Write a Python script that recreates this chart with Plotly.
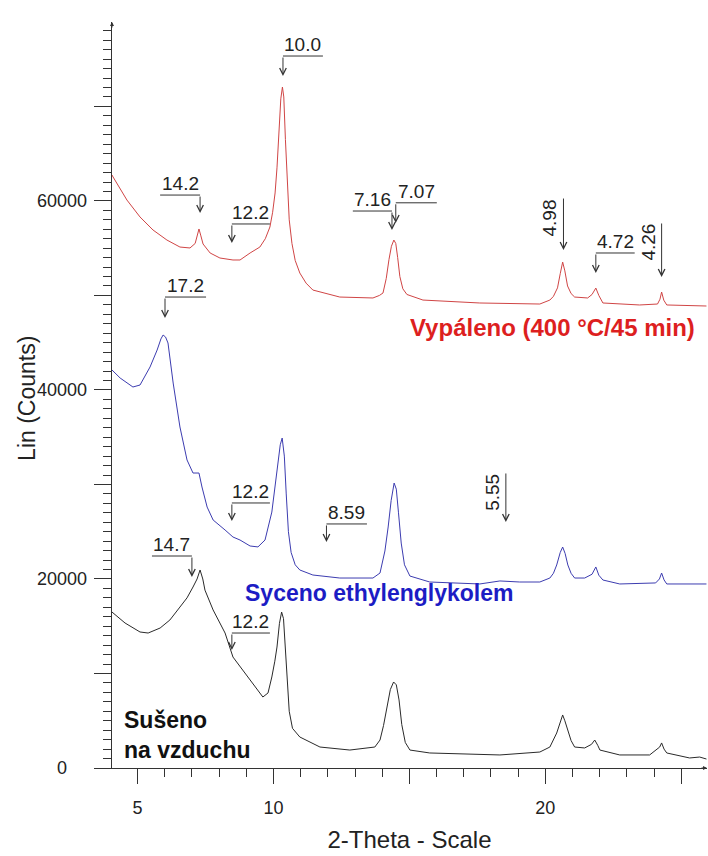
import plotly.graph_objects as go

# ---------------- data (2-Theta in degrees, intensity in counts) ----------------
red_x = [4.06, 4.10, 4.61, 5.09, 5.57, 6.08, 6.56, 6.93, 7.12, 7.19, 7.26, 7.33, 7.41, 7.67, 8.03,
         8.51, 8.77, 9.14, 9.50, 9.70, 9.87, 9.97, 10.06, 10.13, 10.20, 10.27, 10.33, 10.38, 10.44,
         10.50, 10.58, 10.68, 10.80, 10.97, 11.20, 11.45, 12.44, 13.66, 13.90, 14.03, 14.15, 14.25,
         14.34, 14.43, 14.50, 14.57, 14.65, 14.76, 14.91, 15.50, 17.59, 19.80, 20.17, 20.30, 20.45,
         20.55, 20.64, 20.72, 20.82, 20.95, 21.08, 21.56, 21.72, 21.86, 21.97, 22.12, 23.47, 24.13,
         24.22, 24.28, 24.36, 24.47, 25.93]
red_y = [62740, 62530, 60090, 58300, 56920, 55860, 55120, 55020, 55500, 56200, 57030, 56300, 55440,
         54490, 53960, 53750, 53750, 54490, 55120, 56000, 57240, 58800, 60840, 63500, 67500, 70800,
         72050, 71000, 66500, 62000, 58000, 55500, 53700, 52370, 51300, 50570, 49830, 49730, 50000,
         50260, 51800, 53800, 55200, 55860, 55500, 54000, 52000, 50700, 50100, 49510, 49200, 49090,
         49510, 49900, 50800, 52300, 53530, 52600, 51000, 50200, 49830, 49730, 50100, 50780, 50000,
         49200, 48990, 49090, 49600, 50360, 49500, 48990, 48880]

blue_x = [4.06, 4.36, 4.83, 5.09, 5.46, 5.72, 5.86, 5.94, 6.03, 6.12, 6.31, 6.56, 6.82, 7.04, 7.26,
          7.37, 7.56, 7.78, 8.22, 8.51, 8.77, 9.14, 9.43, 9.69, 9.94, 10.05, 10.15, 10.25, 10.32,
          10.40, 10.47, 10.55, 10.65, 10.80, 10.97, 11.45, 12.44, 13.66, 13.92, 14.10, 14.22, 14.33,
          14.44, 14.52, 14.60, 14.70, 14.82, 15.02, 15.75, 17.59, 18.33, 19.06, 19.80, 20.17, 20.30,
          20.42, 20.55, 20.64, 20.73, 20.83, 20.95, 21.08, 21.45, 21.72, 21.86, 21.97, 22.12, 22.74,
          24.06, 24.20, 24.28, 24.37, 24.47, 25.68, 25.93]
blue_y = [42110, 41260, 40310, 40520, 42430, 44220, 45400, 45810, 45600, 44970, 40730, 36080, 32590,
          31210, 31210, 29730, 27610, 26240, 25180, 24440, 24120, 23490, 23390, 24120, 27080, 29500,
          32000, 34200, 34910, 33000, 29000, 25000, 22800, 21500, 20950, 20420, 20100, 20100, 20630,
          22960, 25500, 28300, 30150, 29500, 27000, 23800, 21500, 20310, 19680, 19470, 19790, 19680,
          19680, 20100, 20600, 21480, 22800, 23380, 22700, 21480, 20600, 20100, 20100, 20500, 21270,
          20400, 19890, 19470, 19580, 20000, 20630, 19900, 19470, 19470, 19470]

black_x = [4.06, 4.54, 5.09, 5.39, 5.83, 6.19, 6.56, 6.82, 7.04, 7.19, 7.30, 7.40, 7.48, 7.78, 8.22,
           8.51, 8.95, 9.32, 9.61, 9.80, 9.94, 10.05, 10.13, 10.22, 10.30, 10.37, 10.43, 10.50, 10.58,
           10.70, 10.97, 11.71, 12.81, 13.73, 13.92, 14.05, 14.18, 14.30, 14.42, 14.52, 14.62, 14.72,
           14.85, 15.02, 15.75, 18.33, 19.80, 20.17, 20.42, 20.55, 20.64, 20.72, 20.83, 20.95, 21.08,
           21.45, 21.70, 21.82, 21.93, 22.01, 22.74, 23.84, 24.21, 24.28, 24.37, 24.47, 25.31, 25.68,
           25.93]
black_y = [16500, 15340, 14390, 14280, 14810, 15660, 17030, 18000, 19150, 20000, 20950, 20000, 18820,
           16720, 14280, 11740, 10050, 8570, 7510, 7940, 9630, 11300, 12800, 15300, 16500, 15800,
           13000, 9000, 6000, 4200, 3280, 2220, 1900, 2220, 2960, 4500, 6500, 8300, 9100, 8800, 7200,
           4600, 2700, 1900, 1590, 1380, 1690, 2220, 3700, 4900, 5610, 5000, 4020, 2900, 2220, 2120,
           2500, 2960, 2400, 1900, 1380, 1380, 2220, 2650, 2000, 1590, 1060, 1160, 950]

# d-spacing labels with an L-shaped leader (text over a horizontal line, arrow down)
d_labels = ["14.2", "12.2", "10.0", "7.16", "7.07", "4.72", "17.2", "12.2", "8.59", "14.7", "12.2"]
d_arrow_x = [7.30, 8.47, 10.35, 14.36, 14.50, 21.86, 6.01, 8.47, 11.95, 7.00, 8.47]
d_other_x = [5.83, 9.87, 11.82, 12.92, 16.01, 23.29, 7.52, 9.87, 13.44, 5.53, 9.87]
d_line_y = [60620, 57560, 75330, 58930, 59800, 54490, 49830, 28040, 25820, 22430, 14280]
d_tip_y = [58720, 55550, 73210, 56920, 57660, 52370, 47610, 26130, 23910, 20210, 12480]

# d-spacing labels with vertical text and a straight arrow
v_labels = ["4.98", "4.26", "5.55"]
v_x = [20.67, 24.28, 18.55]
v_top = [60410, 57770, 31320]
v_tip = [54800, 51950, 26030]

y_tick_vals = [0, 10000, 20000, 30000, 40000, 50000, 60000, 70000]
y_tick_text = ["0", "", "20000", "", "40000", "", "60000", ""]
x_tick_vals = [5, 10, 15, 20, 25]
x_tick_text = ["5", "10", "", "20", ""]

FONT = "Liberation Sans, Arial, sans-serif"
AX = "#333333"

fig = go.Figure()
fig.add_trace(go.Scatter(x=black_x, y=black_y, mode="lines",
                         line=dict(color="#2a2a2a", width=1), showlegend=False))
fig.add_trace(go.Scatter(x=blue_x, y=blue_y, mode="lines",
                         line=dict(color="#3c3cb0", width=1), showlegend=False))
fig.add_trace(go.Scatter(x=red_x, y=red_y, mode="lines",
                         line=dict(color="#d04545", width=1), showlegend=False))

ann = []
shapes = []
for t, xa, xo, yl, yt in zip(d_labels, d_arrow_x, d_other_x, d_line_y, d_tip_y):
    shapes.append(dict(type="line", xref="x", yref="y", x0=xo, x1=xa, y0=yl, y1=yl,
                       line=dict(color=AX, width=1)))
    ann.append(dict(x=xa, y=yt, ax=xa, ay=yl, xref="x", yref="y", axref="x", ayref="y",
                    text="", showarrow=True, arrowhead=5, arrowsize=1.3, arrowwidth=1,
                    arrowcolor=AX, standoff=0))
    ann.append(dict(x=(xa + xo) / 2, y=yl, xref="x", yref="y", text=t, showarrow=False,
                    yanchor="bottom", xanchor="center", yshift=-1,
                    font=dict(family=FONT, size=19, color="#222222")))
for t, xv, yt0, yt1 in zip(v_labels, v_x, v_top, v_tip):
    ann.append(dict(x=xv, y=yt1, ax=xv, ay=yt0, xref="x", yref="y", axref="x", ayref="y",
                    text="", showarrow=True, arrowhead=5, arrowsize=1.3, arrowwidth=1,
                    arrowcolor=AX, standoff=0))
    ann.append(dict(x=xv, y=yt0, xref="x", yref="y", text=t, showarrow=False, textangle=-90,
                    xanchor="right", yanchor="top", xshift=-1,
                    font=dict(family=FONT, size=19, color="#222222")))

# sample names
ann.append(dict(x=25.57, y=46660, xref="x", yref="y", text="<b>Vypáleno (400 °C/45 min)</b>",
                showarrow=False, xanchor="right", yanchor="middle",
                font=dict(family=FONT, size=24, color="#dd1f1f")))
ann.append(dict(x=8.88, y=18520, xref="x", yref="y", text="<b>Syceno ethylenglykolem</b>",
                showarrow=False, xanchor="left", yanchor="middle",
                font=dict(family=FONT, size=23, color="#1c1cc4")))
ann.append(dict(x=4.43, y=3540, xref="x", yref="y", text="<b>Sušeno<br>na vzduchu</b>",
                showarrow=False, xanchor="left", yanchor="middle", align="left",
                font=dict(family=FONT, size=23, color="#111111")))

# y tick labels (centred under each other, as in the original)
for v, t in zip(y_tick_vals, y_tick_text):
    if t:
        ann.append(dict(x=-0.084, y=v, xref="paper", yref="y", text=t, showarrow=False,
                        xanchor="center", yanchor="middle",
                        font=dict(family=FONT, size=18, color="#222222")))
# y title
ann.append(dict(x=-0.143, y=0.496, xref="paper", yref="paper", text="Lin (Counts)",
                showarrow=False, textangle=-90, xanchor="center", yanchor="middle",
                font=dict(family=FONT, size=23, color="#222222")))
# axis end arrows
ann.append(dict(x=1, y=0, xref="paper", yref="paper", ax=-7, ay=0, text="", showarrow=True,
                arrowhead=2, arrowsize=0.8, arrowwidth=1, arrowcolor=AX))
ann.append(dict(x=0, y=1, xref="paper", yref="paper", ax=0, ay=7, text="", showarrow=True,
                arrowhead=2, arrowsize=0.8, arrowwidth=1, arrowcolor=AX))

fig.update_layout(
    width=708, height=856,
    margin=dict(l=112, r=1, t=22, b=88),
    paper_bgcolor="white", plot_bgcolor="white",
    annotations=ann, shapes=shapes,
    xaxis=dict(range=[4.06, 25.95], showline=True, linecolor=AX, linewidth=1, mirror=False,
               showgrid=False, zeroline=False, ticks="outside", ticklen=15, tickwidth=1,
               tickcolor=AX, tickmode="array", tickvals=x_tick_vals, ticktext=x_tick_text,
               tickfont=dict(family=FONT, size=18, color="#222222"), ticklabelstandoff=8,
               minor=dict(tickmode="linear", tick0=0, dtick=1, ticks="outside", ticklen=8,
                          tickwidth=1, tickcolor=AX, showgrid=False),
               title=dict(text="2-Theta - Scale", standoff=14,
                          font=dict(family=FONT, size=24, color="#222222"))),
    yaxis=dict(range=[0, 78930], showline=True, linecolor=AX, linewidth=1, mirror=False,
               showgrid=False, zeroline=False, ticks="outside", ticklen=17, tickwidth=1,
               tickcolor=AX, tickmode="array", tickvals=y_tick_vals, showticklabels=False,
               minor=dict(tickmode="linear", tick0=0, dtick=1000, ticks="outside", ticklen=8,
                          tickwidth=1, tickcolor=AX, showgrid=False)),
)

fig.write_html("out.html")
